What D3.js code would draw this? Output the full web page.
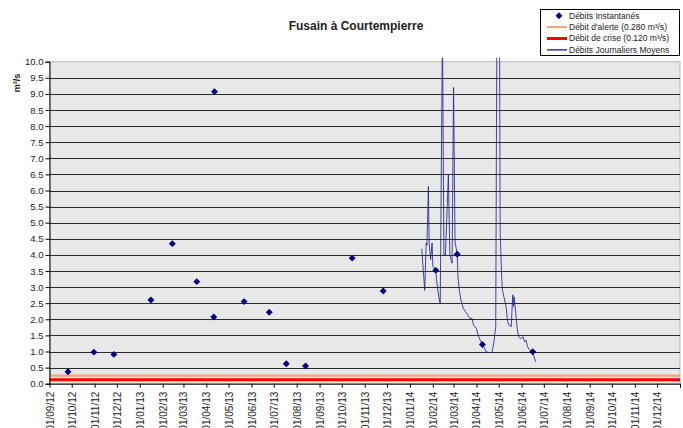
<!DOCTYPE html>
<html>
<head>
<meta charset="utf-8">
<script src="https://cdn.jsdelivr.net/npm/d3@7"></script>
<style>
  body { margin: 0; background: #fff; }
  svg { font-family: "Liberation Sans", Arial, sans-serif; }
</style>
</head>
<body>
<svg id="chart" width="683" height="428"></svg>
<script>
// instantaneous flow measurements (m3/s)
var instantDates = ["2012-09-26", "2012-10-31", "2012-11-27", "2013-01-16", "2013-02-14", "2013-03-19",
  "2013-04-11", "2013-04-12", "2013-05-22", "2013-06-25", "2013-07-18", "2013-08-13", "2013-10-15",
  "2013-11-26", "2014-02-05", "2014-03-06", "2014-04-09", "2014-06-16"];
var instantValues = [0.37, 0.98, 0.91, 2.6, 4.35, 3.17, 2.07, 9.07, 2.55, 2.22, 0.62, 0.55, 3.9,
  2.88, 3.52, 4.02, 1.22, 0.99];

// daily mean flow (only 2014)
var dailyDates = ["2014-01-17", "2014-01-21", "2014-01-23", "2014-01-24", "2014-01-26", "2014-01-27",
  "2014-01-29", "2014-01-31", "2014-02-01", "2014-02-05", "2014-02-06", "2014-02-08", "2014-02-09",
  "2014-02-11", "2014-02-14", "2014-02-16", "2014-02-18", "2014-02-22", "2014-02-24", "2014-02-27",
  "2014-03-01", "2014-03-03", "2014-03-06", "2014-03-07", "2014-03-09", "2014-03-11", "2014-03-14",
  "2014-03-17", "2014-03-20", "2014-03-23", "2014-03-26", "2014-03-28", "2014-04-01", "2014-04-02",
  "2014-04-04", "2014-04-08", "2014-04-11", "2014-04-14", "2014-04-18", "2014-04-22", "2014-04-25",
  "2014-04-26", "2014-04-27", "2014-04-29", "2014-05-01", "2014-05-02", "2014-05-03", "2014-05-05",
  "2014-05-06", "2014-05-09", "2014-05-11", "2014-05-13", "2014-05-15", "2014-05-18", "2014-05-19",
  "2014-05-20", "2014-05-21", "2014-05-22", "2014-05-24", "2014-05-26", "2014-05-28", "2014-05-31",
  "2014-06-03", "2014-06-05", "2014-06-07", "2014-06-09", "2014-06-12", "2014-06-15", "2014-06-17",
  "2014-06-20"];
var dailyValues = [4.19, 2.9, 4.37, 4.3, 6.12, 4.37,
  3.85, 4.37, 3.65, 3.52, 3.23, 2.86, 2.7,
  2.48, 11, 4.0, 4.0, 6.48, 4.0, 3.74,
  9.2, 4.4, 4.02, 3.33, 2.86, 2.6, 2.34,
  2.24, 2.14, 2.03, 2.03, 1.82, 1.72, 1.6,
  1.46, 1.25, 1.15, 0.99, 0.97, 0.97, 1.35,
  1.6, 1.77, 14, 18, 12, 4.69, 3.33,
  2.92, 2.6, 2.4, 1.93, 1.82, 1.77, 2.29,
  2.76, 2.4, 2.7, 2.19, 1.72, 1.46, 1.4,
  1.46, 1.3, 1.35, 1.15, 1.04, 0.99, 0.89,
  0.68];

var alertFlow = 0.28;
var crisisFlow = 0.12;

var yTicks = d3.range(0, 10.01, 0.5);
var legendLabels = ["Débits Instantanés", "Débit d'alerte (0.280 m³/s)", "Débit de crise (0.120 m³/s)", "Débits Journaliers Moyens"];

function draw_chart() {
  var parse = d3.timeParse("%Y-%m-%d");
  var instant = instantDates.map(function(d, i) { return {date: parse(d), value: instantValues[i]}; });
  var daily = dailyDates.map(function(d, i) { return {date: parse(d), value: dailyValues[i]}; });

  var svg = d3.select("#chart");
  var margin = {left: 49.5, right: 680, top: 61.7, bottom: 383.7};
  var axisEnd = parse("2015-01-01");

  var x = d3.scaleTime()
    .domain([parse("2012-09-01"), axisEnd])
    .range([margin.left, margin.right]);
  var y = d3.scaleLinear()
    .domain([0, 10])
    .range([margin.bottom, margin.top]);

  // plot background
  svg.append("rect")
    .attr("x", margin.left).attr("y", margin.top)
    .attr("width", margin.right - margin.left).attr("height", margin.bottom - margin.top)
    .attr("fill", "#e8e8e8")
    .attr("stroke", "#b8b8b8");

  // grid lines
  svg.append("g").selectAll("line")
    .data(yTicks.filter(function(d) { return d > 0 && d < 10; }))
    .enter().append("line")
    .attr("x1", margin.left).attr("x2", margin.right)
    .attr("y1", function(d) { return Math.round(y(d)) + 0.5; })
    .attr("y2", function(d) { return Math.round(y(d)) + 0.5; })
    .attr("stroke", "#2a2a2a")
    .attr("stroke-width", 1);

  // threshold lines
  svg.append("line")
    .attr("x1", margin.left).attr("x2", margin.right)
    .attr("y1", y(alertFlow) + 1).attr("y2", y(alertFlow) + 1)
    .attr("stroke", "#f4a474").attr("stroke-width", 2.2);
  svg.append("line")
    .attr("x1", margin.left).attr("x2", margin.right)
    .attr("y1", y(crisisFlow)).attr("y2", y(crisisFlow))
    .attr("stroke", "#ff0000").attr("stroke-width", 3);

  // y axis
  var yAxis = svg.append("g")
    .attr("transform", "translate(" + margin.left + ",0)")
    .call(d3.axisLeft(y).tickValues(yTicks).tickFormat(d3.format(".1f")).tickSize(4).tickPadding(2));
  yAxis.select(".domain").attr("stroke", "#000");
  yAxis.selectAll("text").attr("font-size", "9.5px").attr("fill", "#222")
    .attr("font-family", "Liberation Sans, Arial, sans-serif");

  // x axis
  var xAxis = svg.append("g")
    .attr("transform", "translate(0," + margin.bottom + ")")
    .call(d3.axisBottom(x).ticks(d3.timeMonth.every(1)).tickFormat(d3.timeFormat("%d/%m/%y")).tickSize(4).tickSizeOuter(0));
  xAxis.select(".domain").attr("stroke", "#000");
  xAxis.selectAll("text")
    .attr("font-size", "10px").attr("fill", "#222")
    .attr("font-family", "Liberation Sans, Arial, sans-serif")
    .attr("text-anchor", "end")
    .attr("transform", "rotate(-90)")
    .attr("x", -8).attr("y", 0).attr("dy", "0.35em");
  // the last tick has no label in the original
  xAxis.selectAll(".tick")
    .filter(function(d) { return +d === +axisEnd; })
    .select("text").remove();

  // daily line, clipped a bit above the plot top
  svg.append("clipPath").attr("id", "clip")
    .append("rect").attr("x", margin.left).attr("y", margin.top - 4)
    .attr("width", margin.right - margin.left).attr("height", margin.bottom - margin.top + 4);

  var line = d3.line()
    .x(function(d) { return x(d.date); })
    .y(function(d) { return y(d.value); });

  svg.append("path")
    .datum(daily)
    .attr("clip-path", "url(#clip)")
    .attr("d", line)
    .attr("fill", "none")
    .attr("stroke", "#1c1c8c")
    .attr("stroke-opacity", 0.8)
    .attr("stroke-width", 1);

  // instantaneous points
  var diamond = d3.symbol().type(d3.symbolSquare).size(24);
  svg.append("g").selectAll("path")
    .data(instant)
    .enter().append("path")
    .attr("d", diamond)
    .attr("transform", function(d) { return "translate(" + x(d.date) + "," + y(d.value) + ") rotate(45)"; })
    .attr("fill", "#000080");

  // title
  svg.append("text")
    .attr("x", 356).attr("y", 30)
    .attr("text-anchor", "middle")
    .attr("font-size", "12px").attr("font-weight", "bold").attr("fill", "#222")
    .text("Fusain à Courtempierre");

  // y label
  svg.append("text")
    .attr("transform", "translate(20,83) rotate(-90)")
    .attr("text-anchor", "middle")
    .attr("font-size", "9px").attr("font-weight", "bold").attr("fill", "#222")
    .text("m³/s");

  // legend
  var lg = svg.append("g");
  lg.append("rect")
    .attr("x", 540.5).attr("y", 9.5).attr("width", 139).attr("height", 46)
    .attr("fill", "#fff").attr("stroke", "#000");
  legendLabels.forEach(function(label, i) {
    var ly = 15.7 + i * 11.4;
    if (i === 0) {
      lg.append("path").attr("d", diamond)
        .attr("transform", "translate(559," + ly + ") rotate(45)")
        .attr("fill", "#000080");
    } else {
      lg.append("line")
        .attr("x1", 547).attr("x2", 567).attr("y1", ly).attr("y2", ly)
        .attr("stroke", i === 1 ? "#f4a474" : i === 2 ? "#ff0000" : "#000080")
        .attr("stroke-width", i === 1 ? 2 : i === 2 ? 3 : 1.2);
    }
    lg.append("text")
      .attr("x", 569).attr("y", ly).attr("dy", "0.35em")
      .attr("font-size", "8.5px").attr("fill", "#222")
      .text(label);
  });
}

draw_chart();
</script>
</body>
</html>
